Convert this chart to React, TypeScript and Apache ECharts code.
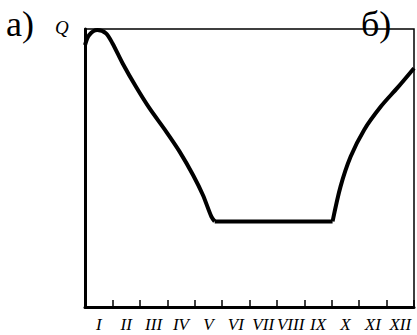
import React, { useEffect, useRef } from "react";
import * as echarts from "echarts";

const months = ["I", "II", "III", "IV", "V", "VI", "VII", "VIII", "IX", "X", "XI", "XII"];

// Falling limb (month position, relative discharge Q)
const fallX = [0, 0.15, 0.45, 0.76, 1.0, 1.37, 1.86, 2.35, 2.96, 3.45, 3.94, 4.3, 4.61, 4.73];
const fallQ = [94.2, 97.8, 99.6, 98.5, 94.9, 87.7, 79.2, 71.5, 63.1, 55.9, 47.5, 40.3, 32.5, 30.8];

// Low-flow period
const lowX = [4.73, 9.03];
const lowQ = [30.8, 30.8];

// Rising limb
const riseX = [9.03, 9.32, 9.69, 10.18, 10.79, 11.4, 12];
const riseQ = [30.8, 43.3, 54.1, 63.7, 72.1, 78.9, 85.9];

const zip = (xs: number[], ys: number[]) => xs.map((x, i) => [x, ys[i]]);

export default function App() {
  const ref = useRef<HTMLDivElement>(null);
  useEffect(() => {
    if (!ref.current) return;
    const chart = echarts.init(ref.current, null, { renderer: "svg" });
    const lineStyle = { color: "#000", width: 4 };
    chart.setOption({
      animation: false,
      backgroundColor: "#fff",
      grid: {
        left: 85,
        right: 3,
        top: 29,
        bottom: 28,
        show: true,
        borderColor: "#000",
        borderWidth: 1.5,
        backgroundColor: "transparent",
      },
      xAxis: [
        {
          type: "category",
          data: months,
          boundaryGap: true,
          axisLine: { show: true, lineStyle: { color: "#000", width: 3 } },
          axisTick: {
            show: true,
            inside: true,
            length: 7,
            alignWithLabel: false,
            lineStyle: { color: "#000", width: 1.5 },
          },
          axisLabel: {
            color: "#000",
            fontFamily: "Liberation Serif",
            fontStyle: "italic",
            fontSize: 17,
            margin: 9,
            interval: 0,
          },
          splitLine: { show: false },
        },
        {
          type: "value",
          min: 0,
          max: 12,
          show: false,
          position: "bottom",
        },
      ],
      yAxis: {
        type: "value",
        min: 0,
        max: 100,
        axisLine: { show: true, lineStyle: { color: "#000", width: 3 } },
        axisTick: { show: false },
        axisLabel: { show: false },
        splitLine: { show: false },
      },
      series: [
        {
          type: "line",
          xAxisIndex: 1,
          data: zip(fallX, fallQ),
          smooth: 0.3,
          showSymbol: false,
          clip: false,
          lineStyle,
        },
        {
          type: "line",
          xAxisIndex: 1,
          data: zip(lowX, lowQ),
          showSymbol: false,
          clip: false,
          lineStyle,
        },
        {
          type: "line",
          xAxisIndex: 1,
          data: zip(riseX, riseQ),
          smooth: 0.3,
          showSymbol: false,
          clip: false,
          lineStyle,
        },
      ],
      graphic: [
        {
          type: "text",
          left: 6,
          top: 6,
          style: {
            text: "а)",
            font: "36px 'Liberation Serif'",
            fill: "#000",
          },
        },
        {
          type: "text",
          left: 55,
          top: 18,
          style: {
            text: "Q",
            font: "italic 19px 'Liberation Serif'",
            fill: "#000",
          },
        },
        {
          type: "text",
          left: 361,
          top: 6,
          style: {
            text: "б)",
            font: "36px 'Liberation Serif'",
            fill: "#000",
          },
        },
      ],
    });
    return () => chart.dispose();
  }, []);
  return (
    <div
      ref={ref}
      style={{ position: "fixed", left: 0, top: 0, width: 417, height: 335, background: "#fff" }}
    />
  );
}
